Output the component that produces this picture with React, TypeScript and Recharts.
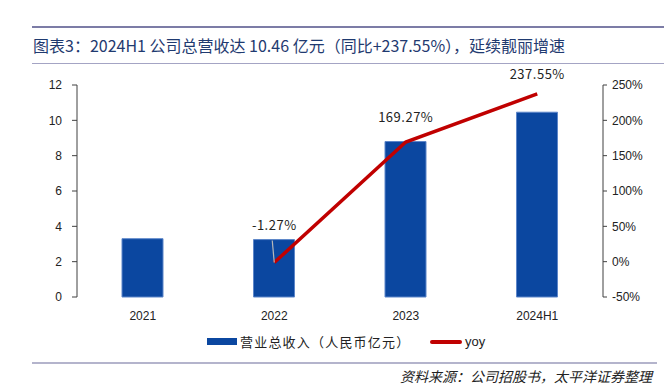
import React from "react"
import {
    ComposedChart,
    Bar,
    Line,
    XAxis,
    YAxis,
    LabelList,
    Legend,
} from "recharts"

const categories = ["2021", "2022", "2023", "2024H1"]
const revenue = [3.3, 3.25, 8.8, 10.46]
const yoy: (number | null)[] = [null, -1.27, 169.27, 237.55]
const leftTicks = [0, 2, 4, 6, 8, 10, 12]
const rightTicks = [-50, 0, 50, 100, 150, 200, 250]
const boundaryTicks = [0, 1, 2, 3, 4]

const BAR_COLOUR = "#0b47a0"
const LINE_COLOUR = "#c00000"
const AXIS_COLOUR = "#404040"
const CJK = '"Noto Sans CJK SC", "Noto Sans", sans-serif'
const LATIN = '"Liberation Sans", Arial, sans-serif'

const data = categories.map((c, i) => ({
    name: c,
    idx: i + 0.5,
    revenue: revenue[i],
    yoy: yoy[i],
}))

// label offsets above each yoy point
const labelLift: Record<number, number> = { 1: 33, 2: 20, 3: 15 }

const YoyLabel = (props: any) => {
    const { x, y, value, index } = props
    if (value == null) return null
    const lift = labelLift[index] ?? 15
    return (
        <g>
            {index === 1 && (
                <line x1={x - 2} y1={y - 22} x2={x} y2={y} stroke="#b8b8b8" strokeWidth={1.2} />
            )}
            <text
                x={x}
                y={y - lift}
                textAnchor="middle"
                fontSize={13}
                fontFamily={CJK}
                letterSpacing={0.5}
                fill="#222"
            >
                {`${value.toFixed(2)}%`}
            </text>
        </g>
    )
}

const LegendContent = () => (
    <div style={{ position: "relative", height: 20, fontFamily: CJK, fontSize: 13, color: "#222" }}>
        <div style={{ position: "absolute", left: 207, top: 5, width: 30, height: 7, background: BAR_COLOUR }} />
        <div style={{ position: "absolute", left: 240, top: 0, lineHeight: "18px", letterSpacing: 1.2, whiteSpace: "nowrap" }}>
            营业总收入（人民币亿元）
        </div>
        <div style={{ position: "absolute", left: 430, top: 7, width: 32, height: 4, background: LINE_COLOUR, borderRadius: 2 }} />
        <div style={{ position: "absolute", left: 465, top: 0, lineHeight: "18px", fontFamily: LATIN }}>yoy</div>
    </div>
)

export default function App() {
    return (
        <div style={{ position: "absolute", left: 0, top: 0, width: 664, height: 387, background: "#fff", overflow: "hidden" }}>
            <div style={{ position: "absolute", left: 32, top: 26, width: 632, height: 2, background: "#7c7ca6" }} />
            <div
                style={{
                    position: "absolute",
                    left: 33,
                    top: 34,
                    fontFamily: CJK,
                    fontSize: 16,
                    color: "#1f3a70",
                    whiteSpace: "nowrap",
                    lineHeight: "22px",
                }}
            >
                图表3：2024H1 公司总营收达 10.46 亿元（同比+237.55%），延续靓丽增速
            </div>
            <div style={{ position: "absolute", left: 32, top: 63, width: 632, height: 1, background: "#a4a4c4" }} />

            <ComposedChart
                width={664}
                height={387}
                data={data}
                margin={{ top: 85, right: 0, bottom: 40, left: 0 }}
            >
                <XAxis
                    xAxisId="cat"
                    dataKey="name"
                    stroke={AXIS_COLOUR}
                    tickLine={false}
                    axisLine={false}
                    tick={{ fontSize: 12, fill: "#222", fontFamily: LATIN }}
                    tickMargin={8}
                    height={30}
                />
                <XAxis
                    xAxisId="edge"
                    type="number"
                    dataKey="idx"
                    domain={[0, 4]}
                    ticks={boundaryTicks}
                    stroke={AXIS_COLOUR}
                    tickSize={5}
                    tickFormatter={() => ""}
                    height={0}
                />
                <YAxis
                    yAxisId="left"
                    orientation="left"
                    domain={[0, 12]}
                    ticks={leftTicks}
                    width={77}
                    stroke={AXIS_COLOUR}
                    tickSize={5}
                    tickMargin={10}
                    tick={{ fontSize: 12, fill: "#222", fontFamily: LATIN }}
                />
                <YAxis
                    yAxisId="right"
                    orientation="right"
                    domain={[-50, 250]}
                    ticks={rightTicks}
                    width={61}
                    stroke={AXIS_COLOUR}
                    tickSize={4}
                    tickMargin={5}
                    tickFormatter={(v) => `${v}%`}
                    tick={{ fontSize: 12, fill: "#222", fontFamily: LATIN }}
                />
                <Legend
                    verticalAlign="bottom"
                    content={<LegendContent />}
                    wrapperStyle={{ left: 0, top: 333, width: 664 }}
                />
                <Bar
                    xAxisId="cat"
                    yAxisId="left"
                    dataKey="revenue"
                    name="营业总收入（人民币亿元）"
                    fill={BAR_COLOUR}
                    stroke="#5d86c9"
                    strokeWidth={1}
                    barSize={41}
                    isAnimationActive={false}
                />
                <Line
                    xAxisId="cat"
                    yAxisId="right"
                    dataKey="yoy"
                    name="yoy"
                    stroke={LINE_COLOUR}
                    strokeWidth={3.5}
                    dot={false}
                    activeDot={false}
                    isAnimationActive={false}
                >
                    <LabelList dataKey="yoy" content={<YoyLabel />} />
                </Line>
            </ComposedChart>

            <div style={{ position: "absolute", left: 32, top: 362, width: 625, height: 2, background: "#b4b4cc" }} />
            <div
                style={{
                    position: "absolute",
                    right: 12,
                    top: 367,
                    fontFamily: CJK,
                    fontSize: 14,
                    fontStyle: "italic",
                    color: "#222",
                    whiteSpace: "nowrap",
                    lineHeight: "18px",
                }}
            >
                资料来源：公司招股书，太平洋证券整理
            </div>
        </div>
    )
}
